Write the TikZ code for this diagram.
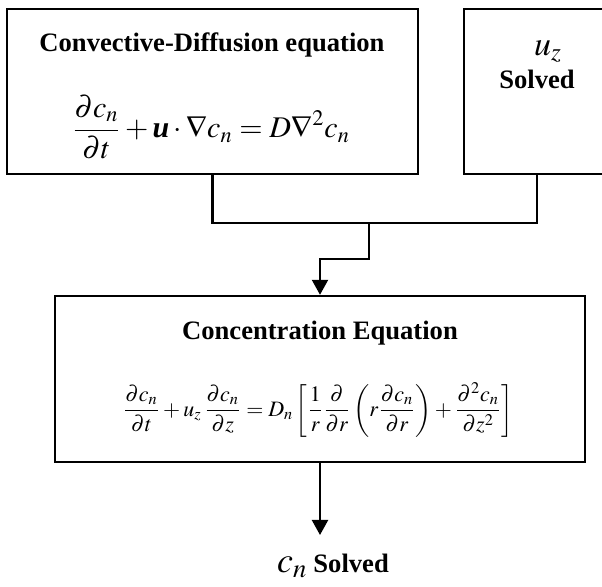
\documentclass[tikz,border=0pt]{standalone}
\usepackage{mathptmx}
\usepackage[no-math]{fontspec}
\setmainfont{Liberation Serif}
\usetikzlibrary{arrows.meta}

\begin{document}
\begin{tikzpicture}[x=0.5pt, y=-0.5pt, every node/.style={inner sep=0pt}]
  \tikzstyle{box}=[draw, line width=1.2pt, rectangle]
  \tikzstyle{head}=[font=\fontsize{13.3}{16}\selectfont\bfseries]
  \tikzstyle{wire}=[line width=1.1pt]
  \tikzstyle{arr}=[wire, -{Triangle[width=8pt, length=7.5pt]}]
  \useasboundingbox (0,0) rectangle (602,587);
  % boxes
  \node[box, minimum width=205.5pt, minimum height=82.5pt] (cd) at (212.5,91.5) {};
  \node[box, minimum width=73pt, minimum height=82.5pt]    (uz) at (537,91.5)   {};
  \node[box, minimum width=265pt, minimum height=83pt]     (cc) at (320,379)    {};
  % texts
  \node[head] (cdtitle) at (212,45) {Convective-Diffusion equation};
  \node[font=\fontsize{15}{18}\selectfont] (cdeq) at (211,127)
    {$\displaystyle\frac{\partial c_n}{\partial t}+\textbf{\textit{u}}\cdot\nabla c_n = D\nabla^2 c_n$};
  \node[font=\fontsize{17}{20}\selectfont] (uzvar) at (548,52) {$u_z$};
  \node[head] (uzsolved) at (537,79) {Solved};
  \node[head] (cctitle) at (320,333) {Concentration Equation};
  \node[font=\fontsize{11}{13}\selectfont] (cceq) at (318,410)
    {$\displaystyle\frac{\partial c_n}{\partial t}+u_z\,\frac{\partial c_n}{\partial z}
     = D_n\left[\frac{1}{r}\frac{\partial}{\partial r}\left(r\frac{\partial c_n}{\partial r}\right)
     +\frac{\partial^2 c_n}{\partial z^2}\right]$};
  \node[head] (out) at (333,566) {\fontsize{18}{20}\selectfont$c_n$\,\fontsize{13.3}{16}\selectfont Solved};
  % connectors
  \coordinate (bus) at (369,223);
  \coordinate (tip) at (320,535);
  \draw[wire] (cd.south) |- (bus) -| (uz.south);
  \draw[arr] (bus) -- ++(0,36) -| (cc.north);
  \draw[arr] (cc.south) -- (tip);
\end{tikzpicture}
\end{document}
